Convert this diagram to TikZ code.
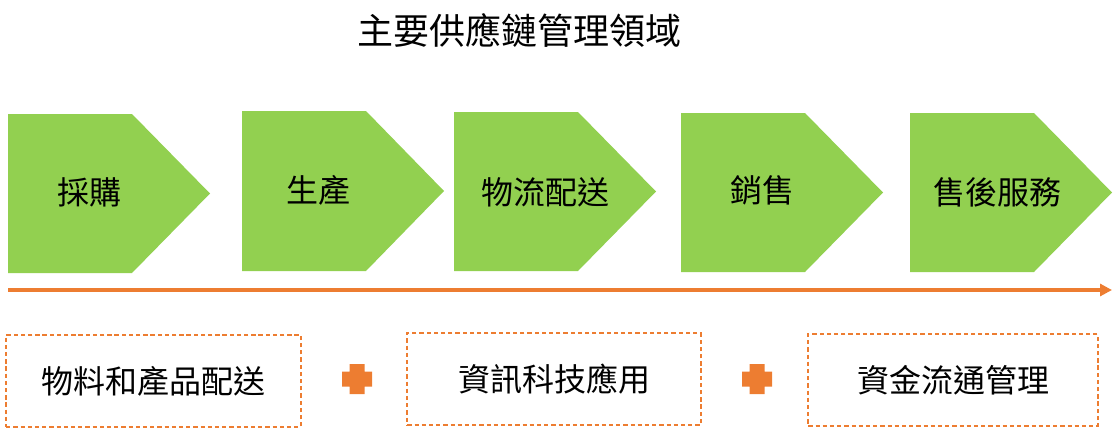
\documentclass[tikz,border=0pt]{standalone}
\usepackage{fontspec}
\setmainfont{Noto Sans CJK TC}
\usetikzlibrary{arrows.meta}
\definecolor{leafgreen}{HTML}{92D050}
\definecolor{floworange}{HTML}{ED7D31}
\tikzset{stagetext/.style={font=\fontsize{24}{28}\selectfont},
  areabox/.style={draw=floworange, line width=1.4pt, dash pattern=on 3.2pt off 2.2pt, minimum height=69pt, font=\fontsize{24}{28}\selectfont}}

\begin{document}
\begin{tikzpicture}[x=0.75pt,y=-0.75pt]
\useasboundingbox (0,0) rectangle (1118,439);
\node[font=\fontsize{27}{32}\selectfont] (title) at (519,31) {主要供應鏈管理領域};
\foreach \x/\ya/\yb in {8/114/273, 242/111/271, 454/112/271, 681/113/272, 910/113/272} { \fill[leafgreen] (\x,\ya) -- (\x+124,\ya) -- (\x+202,{(\ya+\yb)/2}) -- (\x+124,\yb) -- (\x,\yb) -- cycle; };
\foreach \n/\x/\y/\s in {buy/89/192/採購, make/318/190/生產, ship/545/192/物流配送, sell/762/190/銷售, service/997/192/售後服務} { \node[stagetext] (\n) at (\x,\y) {\s}; };
\coordinate (flowstart) at (8,290); \coordinate (flowend) at (1112,290);
\draw[floworange, line width=2.6pt, -{Triangle[length=9pt,width=9pt]}] (flowstart) -- (flowend);
\node[areabox, minimum width=221pt] (goods) at (153.5,381) {物料和產品配送};
\node[areabox, minimum width=220pt] (infotech) at (554,379) {資訊科技應用};
\node[areabox, minimum width=217pt] (funds) at (953,380) {資金流通管理};
\foreach \cx in {357,757} { \fill[floworange] (\cx-7.5,364) -- (\cx+7.5,364) -- (\cx+7.5,371.5) -- (\cx+15,371.5) -- (\cx+15,386.5) -- (\cx+7.5,386.5) -- (\cx+7.5,394) -- (\cx-7.5,394) -- (\cx-7.5,386.5) -- (\cx-15,386.5) -- (\cx-15,371.5) -- (\cx-7.5,371.5) -- cycle; };
\end{tikzpicture}
\end{document}
